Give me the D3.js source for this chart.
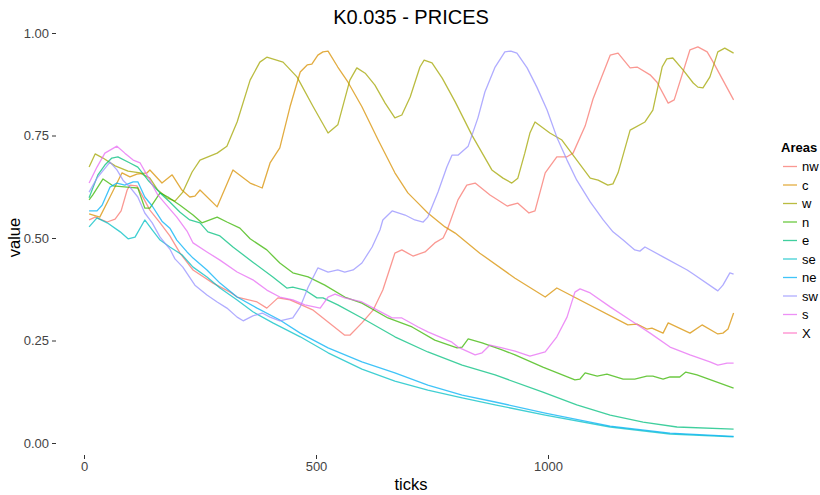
<!DOCTYPE html>
<html>
<head>
<meta charset="utf-8">
<script src="https://cdn.jsdelivr.net/npm/d3@7"></script>
<style>
  html, body { margin: 0; padding: 0; background: #fff; }
  svg { display: block; font-family: "Liberation Sans", Arial, sans-serif; }
</style>
</head>
<body>
<svg id="chart" width="820" height="495"></svg>
<script>
// Series: [tick, price] pairs for each area
const nw = [[11,0.544],[24,0.551],[50,0.539],[67,0.546],[80,0.566],[93,0.617],[99,0.629],[114,0.627],[142,0.568],[164,0.537],[185,0.505],[207,0.463],[235,0.422],[278,0.390],[315,0.368],[330,0.356],[373,0.344],[394,0.329],[418,0.354],[444,0.349],[494,0.324],[562,0.263],[573,0.263],[599,0.293],[623,0.324],[644,0.373],[670,0.463],[685,0.471],[709,0.456],[735,0.466],[756,0.488],[774,0.500],[784,0.524],[806,0.593],[825,0.629],[843,0.634],[875,0.605],[912,0.578],[935,0.585],[959,0.561],[972,0.566],[994,0.659],[1019,0.698],[1041,0.698],[1054,0.707],[1080,0.773],[1097,0.839],[1134,0.946],[1151,0.951],[1177,0.915],[1192,0.917],[1220,0.898],[1235,0.880],[1259,0.829],[1272,0.837],[1306,0.959],[1323,0.966],[1343,0.954],[1356,0.929],[1400,0.837]];
const c = [[11,0.559],[34,0.551],[56,0.600],[82,0.659],[99,0.649],[114,0.656],[136,0.659],[142,0.666],[168,0.634],[190,0.654],[211,0.617],[228,0.600],[239,0.602],[250,0.617],[287,0.576],[321,0.666],[358,0.634],[384,0.622],[401,0.683],[422,0.720],[444,0.820],[466,0.905],[481,0.922],[491,0.924],[504,0.946],[515,0.954],[526,0.956],[547,0.917],[569,0.880],[599,0.820],[634,0.739],[670,0.659],[698,0.610],[720,0.585],[741,0.561],[778,0.527],[800,0.512],[853,0.463],[929,0.402],[994,0.356],[1019,0.378],[1172,0.288],[1192,0.290],[1213,0.278],[1224,0.280],[1248,0.268],[1259,0.293],[1306,0.268],[1332,0.288],[1366,0.266],[1377,0.268],[1388,0.278],[1400,0.317]];
const w = [[11,0.673],[24,0.705],[41,0.695],[67,0.676],[95,0.663],[121,0.659],[142,0.646],[159,0.617],[179,0.598],[196,0.590],[213,0.612],[233,0.661],[250,0.690],[287,0.707],[308,0.724],[330,0.783],[358,0.885],[379,0.929],[394,0.941],[429,0.929],[459,0.893],[494,0.820],[526,0.756],[547,0.776],[573,0.885],[588,0.915],[606,0.902],[627,0.873],[649,0.829],[670,0.793],[685,0.800],[703,0.844],[724,0.917],[733,0.934],[750,0.927],[772,0.890],[800,0.832],[836,0.751],[879,0.666],[903,0.646],[922,0.634],[935,0.646],[950,0.707],[961,0.756],[972,0.783],[1004,0.756],[1030,0.739],[1054,0.702],[1091,0.646],[1108,0.641],[1129,0.629],[1140,0.632],[1151,0.659],[1177,0.763],[1209,0.783],[1226,0.812],[1246,0.917],[1256,0.937],[1269,0.939],[1291,0.910],[1313,0.878],[1323,0.868],[1334,0.866],[1349,0.893],[1366,0.954],[1381,0.963],[1400,0.951]];
const n = [[11,0.593],[19,0.605],[41,0.644],[63,0.627],[93,0.624],[116,0.622],[131,0.573],[142,0.573],[164,0.610],[181,0.600],[207,0.580],[235,0.556],[254,0.537],[287,0.551],[308,0.539],[336,0.524],[358,0.498],[394,0.471],[422,0.439],[450,0.415],[483,0.405],[519,0.385],[562,0.356],[599,0.341],[655,0.305],[707,0.283],[756,0.251],[804,0.232],[815,0.234],[828,0.254],[858,0.244],[901,0.227],[929,0.215],[989,0.185],[1058,0.154],[1069,0.156],[1080,0.171],[1106,0.163],[1127,0.168],[1162,0.156],[1187,0.156],[1213,0.163],[1226,0.163],[1248,0.156],[1263,0.161],[1284,0.161],[1297,0.173],[1321,0.166],[1400,0.134]];
const e = [[11,0.598],[30,0.654],[45,0.678],[60,0.695],[73,0.698],[99,0.683],[116,0.673],[138,0.641],[164,0.610],[185,0.588],[207,0.563],[228,0.544],[250,0.537],[267,0.515],[293,0.505],[321,0.478],[364,0.441],[407,0.405],[437,0.378],[450,0.380],[476,0.373],[502,0.354],[515,0.354],[547,0.337],[599,0.305],[670,0.259],[741,0.222],[815,0.190],[886,0.166],[989,0.124],[1062,0.093],[1134,0.068],[1205,0.051],[1278,0.039],[1400,0.034]];
const se = [[11,0.527],[28,0.549],[50,0.537],[78,0.515],[95,0.498],[110,0.502],[131,0.544],[147,0.520],[164,0.495],[185,0.478],[211,0.459],[235,0.429],[265,0.405],[293,0.378],[330,0.349],[364,0.320],[407,0.293],[466,0.259],[526,0.220],[599,0.180],[670,0.151],[741,0.129],[815,0.110],[886,0.093],[994,0.068],[1134,0.039],[1263,0.022],[1400,0.015]];
const ne = [[11,0.566],[28,0.566],[39,0.580],[56,0.624],[71,0.634],[88,0.629],[106,0.637],[116,0.637],[131,0.600],[147,0.578],[168,0.541],[185,0.524],[200,0.495],[222,0.466],[235,0.451],[265,0.422],[293,0.390],[330,0.356],[373,0.329],[422,0.300],[466,0.268],[526,0.232],[599,0.198],[670,0.171],[741,0.141],[815,0.117],[886,0.100],[994,0.073],[1134,0.041],[1263,0.024],[1400,0.016]];
const sw = [[11,0.612],[28,0.646],[56,0.685],[71,0.666],[84,0.641],[99,0.624],[116,0.600],[131,0.561],[147,0.537],[164,0.502],[185,0.473],[196,0.449],[213,0.429],[239,0.385],[265,0.361],[287,0.344],[308,0.329],[330,0.307],[343,0.298],[364,0.310],[384,0.317],[401,0.307],[422,0.298],[450,0.305],[466,0.332],[483,0.380],[504,0.427],[526,0.417],[547,0.422],[562,0.417],[580,0.422],[599,0.439],[621,0.478],[638,0.520],[644,0.544],[664,0.566],[692,0.556],[713,0.544],[731,0.539],[741,0.551],[763,0.612],[782,0.673],[793,0.702],[806,0.702],[828,0.724],[849,0.793],[864,0.856],[886,0.917],[907,0.954],[920,0.956],[933,0.951],[955,0.915],[976,0.868],[998,0.812],[1019,0.746],[1041,0.690],[1062,0.641],[1091,0.588],[1119,0.544],[1140,0.515],[1162,0.495],[1187,0.471],[1198,0.468],[1209,0.478],[1248,0.454],[1300,0.422],[1313,0.412],[1366,0.371],[1377,0.385],[1392,0.415],[1400,0.412]];
const s = [[11,0.634],[28,0.673],[45,0.707],[71,0.724],[88,0.707],[106,0.690],[121,0.683],[138,0.649],[159,0.605],[181,0.576],[200,0.551],[222,0.517],[235,0.488],[265,0.466],[293,0.446],[330,0.417],[364,0.398],[394,0.373],[422,0.356],[450,0.349],[476,0.337],[509,0.329],[526,0.356],[541,0.363],[562,0.354],[599,0.344],[627,0.327],[664,0.305],[685,0.305],[720,0.283],[741,0.271],[793,0.246],[806,0.234],[843,0.215],[858,0.220],[875,0.239],[901,0.232],[929,0.224],[961,0.212],[994,0.222],[1019,0.259],[1041,0.307],[1058,0.368],[1069,0.376],[1091,0.366],[1134,0.332],[1177,0.300],[1220,0.268],[1263,0.234],[1306,0.215],[1349,0.198],[1366,0.190],[1386,0.195],[1400,0.195]];
const X = [];

const areaNames = ["nw", "c", "w", "n", "e", "se", "ne", "sw", "s", "X"];
const areaValues = [nw, c, w, n, e, se, ne, sw, s, X];
const areaColors = ["#F8766D", "#D89000", "#A3A500", "#39B600", "#00BF7D", "#00BFC4", "#00B0F6", "#9590FF", "#E76BF3", "#FF62BC"];
const xTickValues = [0, 500, 1000];
const yTickValues = [0, 0.25, 0.5, 0.75, 1];
const yTickLabels = ["0.00", "0.25", "0.50", "0.75", "1.00"];

const svg = d3.select("#chart");
const panel = { left: 56, right: 766, top: 20, bottom: 455 };

const x = d3.scaleLinear().domain([0, 1000]).range([84, 548]);
const y = d3.scaleLinear().domain([0, 1]).range([443, 33]);
const color = d3.scaleOrdinal().domain(areaNames).range(areaColors);

// Title
svg.append("text")
  .attr("x", (panel.left + panel.right) / 2).attr("y", 24)
  .attr("text-anchor", "middle")
  .style("font-size", "20px").style("fill", "#000")
  .text("K0.035 - PRICES");

// Axes: ticks and labels only, no axis lines
const yAxis = d3.axisLeft(y).tickValues(yTickValues)
  .tickFormat((d, i) => yTickLabels[i]).tickSizeInner(4).tickSizeOuter(0).tickPadding(3);
const gy = svg.append("g").attr("transform", `translate(${panel.left},0)`).call(yAxis);
gy.select(".domain").remove();
gy.selectAll("line").attr("stroke", "#333");
gy.selectAll("text").style("font-size", "13px").style("fill", "#444").attr("font-family", null);

const xAxis = d3.axisBottom(x).tickValues(xTickValues).tickFormat(d3.format("d"))
  .tickSizeInner(4).tickSizeOuter(0).tickPadding(3);
const gx = svg.append("g").attr("transform", `translate(0,${panel.bottom})`).call(xAxis);
gx.select(".domain").remove();
gx.selectAll("line").attr("stroke", "#333");
gx.selectAll("text").style("font-size", "13px").style("fill", "#444").attr("font-family", null);

// Axis titles
svg.append("text")
  .attr("x", (panel.left + panel.right) / 2).attr("y", 490)
  .attr("text-anchor", "middle").style("font-size", "16.5px").style("fill", "#000")
  .text("ticks");
svg.append("text")
  .attr("transform", `translate(20,${(panel.top + panel.bottom) / 2}) rotate(-90)`)
  .attr("text-anchor", "middle").style("font-size", "16.5px").style("fill", "#000")
  .text("value");

// Price lines
const line = d3.line().x(d => x(d[0])).y(d => y(d[1]));
svg.append("g").selectAll("path")
  .data(areaNames.map((name, i) => ({ name, values: areaValues[i] })).filter(d => d.values.length))
  .join("path")
  .attr("d", d => line(d.values))
  .attr("fill", "none")
  .attr("stroke", d => color(d.name))
  .attr("stroke-opacity", 0.75)
  .attr("stroke-width", 1.3)
  .attr("stroke-linejoin", "round");

// Legend
const legend = svg.append("g").attr("transform", "translate(781,0)");
legend.append("text")
  .attr("x", 0).attr("y", 152)
  .style("font-size", "13px").style("font-weight", "bold").style("fill", "#000")
  .text("Areas");
const item = legend.selectAll("g.item").data(areaNames).join("g")
  .attr("class", "item")
  .attr("transform", (d, i) => `translate(0,${166.5 + i * 18.5})`);
item.append("line")
  .attr("x1", 2).attr("x2", 16).attr("y1", 0).attr("y2", 0)
  .attr("stroke", d => color(d)).attr("stroke-opacity", 0.75).attr("stroke-width", 1.3);
item.append("text")
  .attr("x", 21).attr("y", 0).attr("dy", "0.35em")
  .style("font-size", "13px").style("fill", "#000")
  .text(d => d);
</script>
</body>
</html>
